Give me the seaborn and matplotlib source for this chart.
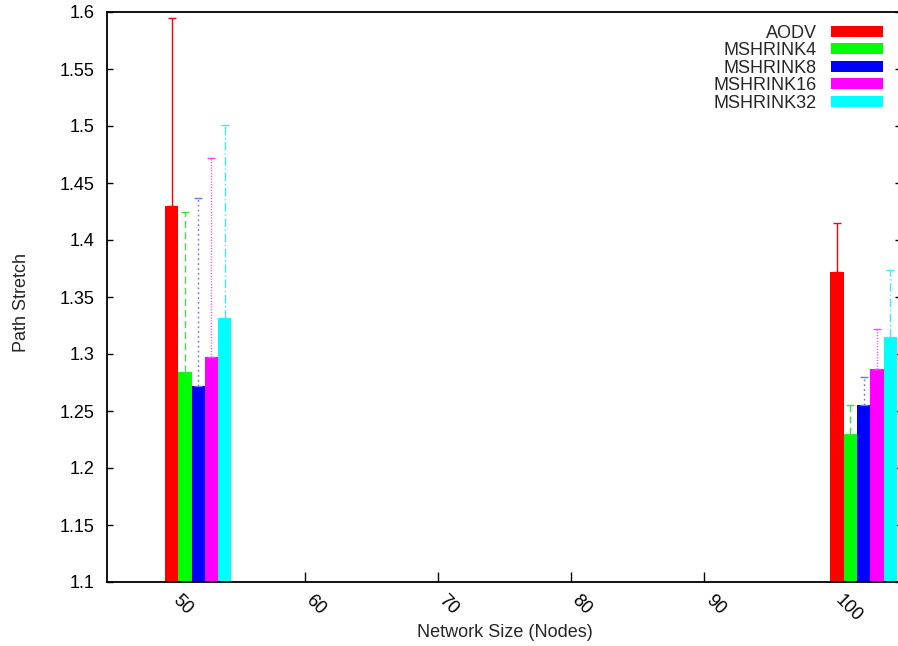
import matplotlib
matplotlib.use("Agg")
import matplotlib.pyplot as plt
import matplotlib.transforms as mtransforms
from matplotlib.patches import Patch
import numpy as np
import pandas as pd
import seaborn as sns

# ---- data ----
sizes = [50, 100]
series = ["AODV", "MSHRINK4", "MSHRINK8", "MSHRINK16", "MSHRINK32"]
aodv = [1.430, 1.372]
mshrink4 = [1.284, 1.230]
mshrink8 = [1.272, 1.255]
mshrink16 = [1.297, 1.287]
mshrink32 = [1.332, 1.315]
aodv_err = [0.165, 0.043]
mshrink4_err = [0.141, 0.025]
mshrink8_err = [0.165, 0.025]
mshrink16_err = [0.175, 0.035]
mshrink32_err = [0.169, 0.059]
xticks = [50, 60, 70, 80, 90, 100]
yticks = [1.1, 1.15, 1.2, 1.25, 1.3, 1.35, 1.4, 1.45, 1.5, 1.55, 1.6]

values = [aodv, mshrink4, mshrink8, mshrink16, mshrink32]
errors = [aodv_err, mshrink4_err, mshrink8_err, mshrink16_err, mshrink32_err]
colors = ["#ff0000", "#00ff00", "#0000ff", "#ff00ff", "#00ffff"]
err_colors = ["#ff0000", "#40e040", "#7070ff", "#ff40ff", "#40e8e8"]
err_styles = ["-", (0, (5, 3)), (0, (1.3, 2.2)), (0, (0.8, 1.2)), (0, (6, 2, 1, 2))]

rows = []
for i, name in enumerate(series):
    for j, s in enumerate(sizes):
        rows.append({"pos": s + i, "value": values[i][j], "err": errors[i][j], "series": name})
df = pd.DataFrame(rows)

sns.set_style("white")
plt.rcParams["font.family"] = ["Liberation Sans", "DejaVu Sans"]
plt.rcParams["font.size"] = 13

W, H = 898, 646
fig = plt.figure(figsize=(W / 100, H / 100), dpi=100)
ax = fig.add_axes([107 / W, (H - 582) / H, (901 - 107) / W, (582 - 12) / H])

sns.barplot(data=df, x="pos", y="value", hue="series", hue_order=series,
            palette=dict(zip(series, colors)), native_scale=True, dodge=False,
            width=1.0, errorbar=None, saturation=1, linewidth=0, legend=False, ax=ax)

for i, name in enumerate(series):
    sub = df[df["series"] == name]
    eb = ax.errorbar(sub["pos"], sub["value"],
                     yerr=[np.zeros(len(sub)), sub["err"].to_numpy()],
                     fmt="none", ecolor=err_colors[i], elinewidth=1.0,
                     capsize=2.9, capthick=1.0, zorder=3)
    for lc in eb[2]:
        lc.set_linestyle(err_styles[i])

ax.set_xlim(45.15, 104.8)
ax.set_ylim(1.1, 1.6)
ax.set_xticks(xticks)
ax.set_yticks(yticks)

ax.tick_params(axis="x", direction="in", length=7.2, width=1, pad=7.0,
               top=False, bottom=True, labelsize=13, colors="black")
ax.tick_params(axis="y", direction="in", length=4.3, width=1, pad=9,
               left=True, right=True, labelsize=13, colors="black")
ax.set_xticklabels([str(t) for t in xticks], rotation=-45, ha="center", va="top")
ax.set_yticklabels([f"{t:g}" for t in yticks])
offset = mtransforms.ScaledTranslation(11 / 100, 0, fig.dpi_scale_trans)
for lab in ax.get_xticklabels():
    lab.set_transform(lab.get_transform() + offset)

for sp in ax.spines.values():
    sp.set_color("black")
    sp.set_linewidth(1.3)
    sp.set_visible(True)

ax.set_xlabel("Network Size (Nodes)", fontsize=13)
ax.set_ylabel("Path Stretch", fontsize=13)
ax.xaxis.set_label_coords(0.501, -0.074)
ax.yaxis.set_label_coords(-0.097, 0.49)

handles = [Patch(facecolor=c, edgecolor="none") for c in colors]
ax.legend(handles, series, loc="upper right", frameon=False, markerfirst=False,
          fontsize=13, handlelength=2.9, handleheight=0.55, handletextpad=0.75,
          labelspacing=0.03, borderpad=0, borderaxespad=0,
          bbox_to_anchor=(883 / W, 1 - 24.5 / H), bbox_transform=fig.transFigure)

fig.savefig("out.png", dpi=100)
